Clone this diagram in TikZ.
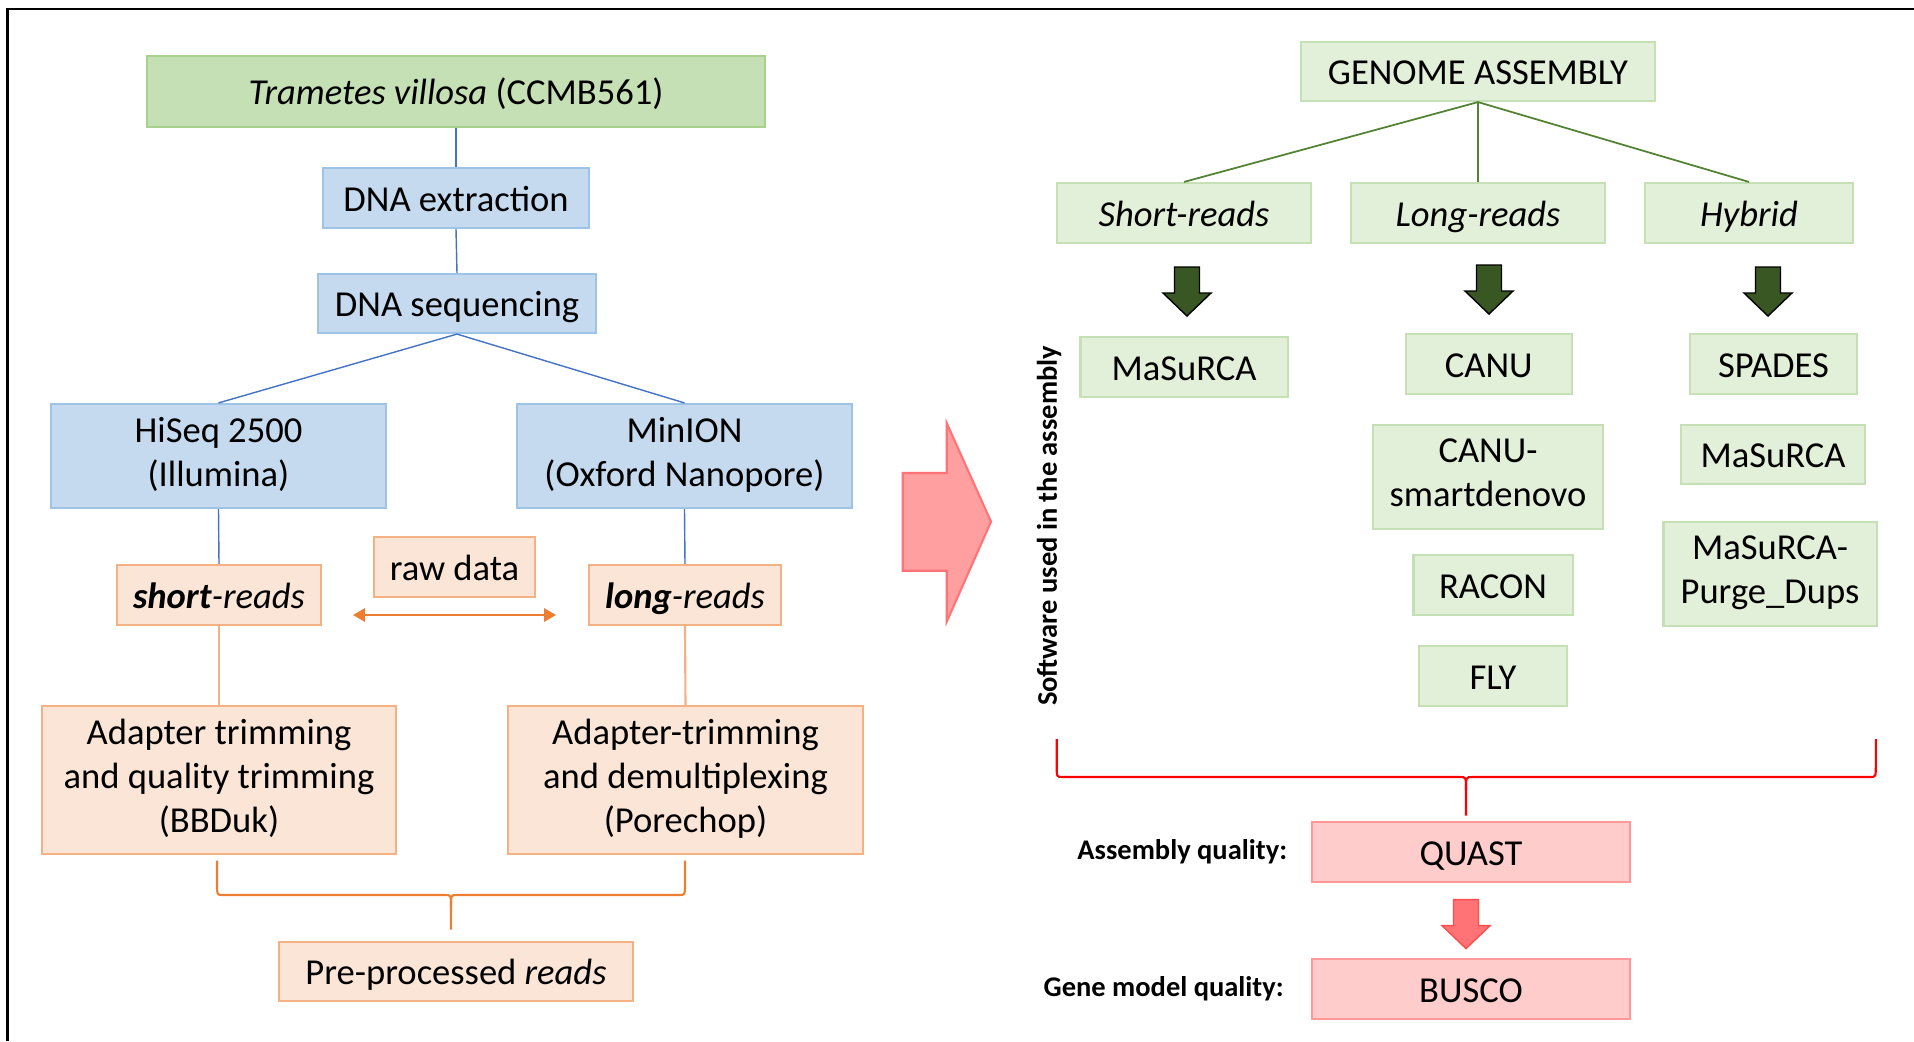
\documentclass[tikz,border=0pt]{standalone}
\usepackage{fontspec}
\setmainfont{Carlito}
\usetikzlibrary{positioning,arrows.meta}
\definecolor{tvfill}{HTML}{C5E0B4}
\definecolor{tvdraw}{HTML}{A9D18E}
\definecolor{bluefill}{HTML}{C5DAEF}
\definecolor{bluedraw}{HTML}{9DC3E6}
\definecolor{blueline}{HTML}{4472C4}
\definecolor{orfill}{HTML}{FBE5D6}
\definecolor{ordraw}{HTML}{F4B183}
\definecolor{orline}{HTML}{ED7D31}
\definecolor{gfill}{HTML}{E2F0D9}
\definecolor{gdraw}{HTML}{C5E0B4}
\definecolor{gline}{HTML}{548235}
\definecolor{garrow}{HTML}{385723}
\definecolor{rfill}{HTML}{FFCCCC}
\definecolor{rdraw}{HTML}{FF9999}
\definecolor{rarrow}{HTML}{FF7275}
\definecolor{bigfill}{HTML}{FF9F9F}
\newcommand{\mainsize}{\fontsize{10.4}{12.5}\selectfont}
\newcommand{\labsize}{\fontsize{8.1}{9.5}\selectfont\bfseries}
% fixed line height, so every box centres its lines alike
\newcommand{\ls}{\rule[-0.24em]{0pt}{1.2em}}
% down block arrow: style, x of centre, y of top
\newcommand{\blockdown}[3]{\draw[#1] (#2,#3) ++(-12.5,0) -- ++(25,0) -- ++(0,26) -- ++(11.5,0) -- ++(-24,23) -- ++(-24,-23) -- ++(11.5,0) -- cycle;}

\begin{document}
\begin{tikzpicture}[x=0.01cm,y=-0.01cm,
  box/.style={draw,line width=0.6pt,inner sep=0pt,align=center,font=\mainsize,
    execute at begin node=\ls,execute at end node=\ls},
  wh/.style 2 args={minimum width=#1cm,minimum height=#2cm},
  bluebox/.style={box,fill=bluefill,draw=bluedraw},
  orbox/.style={box,fill=orfill,draw=ordraw},
  gbox/.style={box,fill=gfill,draw=gdraw},
  rbox/.style={box,fill=rfill,draw=rdraw},
  bline/.style={draw=blueline,line width=0.4pt},
  oline/.style={draw=ordraw,line width=0.6pt},
  gconn/.style={draw=gline,line width=0.5pt},
  lab/.style={font=\labsize,inner sep=0pt}]
\useasboundingbox (0,0) rectangle (1914,1041);
\draw[line width=0.7pt] (1914,9) -- (7.5,9) -- (7.5,1041);

% sequencing side
\node[box,fill=tvfill,draw=tvdraw,wh={6.18}{0.71}] (tv) at (456,91.5) {\textit{Trametes villosa} (CCMB561)};
\node[bluebox,wh={2.66}{0.60}] (ext) at (456,198) {DNA extraction};
\node[bluebox,wh={2.78}{0.59}] (seq) at (457,303.5) {DNA sequencing};
\node[bluebox,wh={3.35}{1.04}] (hiseq) at (218.5,456) {HiSeq 2500\\(Illumina)};
\node[bluebox,wh={3.35}{1.04}] (minion) at (684.5,456) {MinION\\(Oxford Nanopore)};
\node[orbox,wh={2.04}{0.60}] (short) at (219,595) {\textbf{\textit{short}}\textit{-reads}};
\node[orbox,wh={1.61}{0.60}] (raw) at (454.5,567) {raw data};
\node[orbox,wh={1.92}{0.60}] (long) at (685,595) {\textbf{\textit{long}}\textit{-reads}};
\node[orbox,wh={3.54}{1.48}] (adl) at (219,780) {Adapter trimming\\and quality trimming\\(BBDuk)};
\node[orbox,wh={3.55}{1.48}] (adr) at (685.5,780) {Adapter-trimming\\and demultiplexing\\(Porechop)};
\node[orbox,wh={3.54}{0.59}] (pre) at (456,971.5) {Pre-processed \textit{reads}};

\draw[bline] (tv.south) -- (ext.north);
\draw[bline] (ext.south) -- (seq.north);
\draw[bline] (seq.south) -- (hiseq.north);
\draw[bline] (seq.south) -- (minion.north);
\draw[bline] (hiseq.south) -- (short.north);
\draw[bline] (minion.south) -- (long.north);
\draw[oline] (short.south) -- (adl.north);
\draw[oline] (long.south) -- (adr.north);

\coordinate (rawl) at (353,615);
\coordinate (rawr) at (556,615);
\draw[orline,line width=0.6pt,{Triangle[length=3.4pt,width=3.8pt]}-{Triangle[length=3.4pt,width=3.8pt]}] (rawl) -- (rawr);

% brace to pre-processed reads
\draw[orline,line width=0.6pt] (217,860.6) -- (217,884) .. controls (217,895) .. (223,895) -- (445,895) .. controls (451,895) .. (451,906) -- (451,929.6);
\draw[orline,line width=0.6pt] (685,860.6) -- (685,884) .. controls (685,895) .. (679,895) -- (457,895) .. controls (451,895) .. (451,906);

% big arrow
\draw[draw=rarrow,fill=bigfill,line width=0.6pt] (902.7,473) -- (946.7,473) -- (946.7,423) -- (991,521.7) -- (946.7,621.7) -- (946.7,570.7) -- (902.7,570.7) -- cycle;

% assembly side
\node[gbox,wh={3.545}{0.59}] (ga) at (1478,71.5) {GENOME ASSEMBLY};
\node[gbox,wh={2.54}{0.60}] (sr) at (1184,213) {\textit{Short-reads}};
\node[gbox,wh={2.535}{0.60}] (lr) at (1478,213) {\textit{Long-reads}};
\node[gbox,wh={2.08}{0.60}] (hy) at (1749,213) {\textit{Hybrid}};
\draw[gconn] (ga.south) -- (sr.north);
\draw[gconn] (ga.south) -- (lr.north);
\draw[gconn] (ga.south) -- (hy.north);

\blockdown{fill=garrow}{1187}{267}
\blockdown{fill=garrow}{1489}{265}
\blockdown{fill=garrow}{1768}{267}

\node[lab,rotate=90] (soft) at (1049,526) {Software used in the assembly};

\node[gbox,wh={2.07}{0.60}] (mas) at (1184,367) {MaSuRCA};
\node[gbox,wh={1.66}{0.60}] (canu) at (1488.7,364) {CANU};
\node[gbox,wh={2.305}{1.04}] (canus) at (1488,477) {CANU-\\smartdenovo};
\node[gbox,wh={1.59}{0.60}] (racon) at (1493,585) {RACON};
\node[gbox,wh={1.48}{0.60}] (fly) at (1493,676) {FLY};
\node[gbox,wh={1.67}{0.60}] (spades) at (1773.5,364) {SPADES};
\node[gbox,wh={1.836}{0.59}] (mash) at (1773,454.5) {MaSuRCA};
\node[gbox,wh={2.13}{1.04}] (purge) at (1770,574) {MaSuRCA-\\Purge\_Dups};

% brace to quality checks
\draw[red,line width=0.6pt] (1056.7,739) -- (1056.7,765) .. controls (1056.7,777) .. (1062,777) -- (1460,777) .. controls (1466,777) .. (1466,790) -- (1466,815.7);
\draw[red,line width=0.6pt] (1875.8,739) -- (1875.8,765) .. controls (1875.8,777) .. (1870,777) -- (1472,777) .. controls (1466,777) .. (1466,790);

\node[rbox,wh={3.17}{0.595}] (quast) at (1471,852) {QUAST};
\node[rbox,wh={3.17}{0.595}] (busco) at (1471,989) {BUSCO};
\blockdown{fill=rarrow,draw=red!70,line width=0.4pt}{1466}{899.6}
\node[lab,left=0.236cm of quast] (aq) {Assembly quality:};
\node[lab,left=0.27cm of busco] (gq) {Gene model quality:};
\end{tikzpicture}
\end{document}
